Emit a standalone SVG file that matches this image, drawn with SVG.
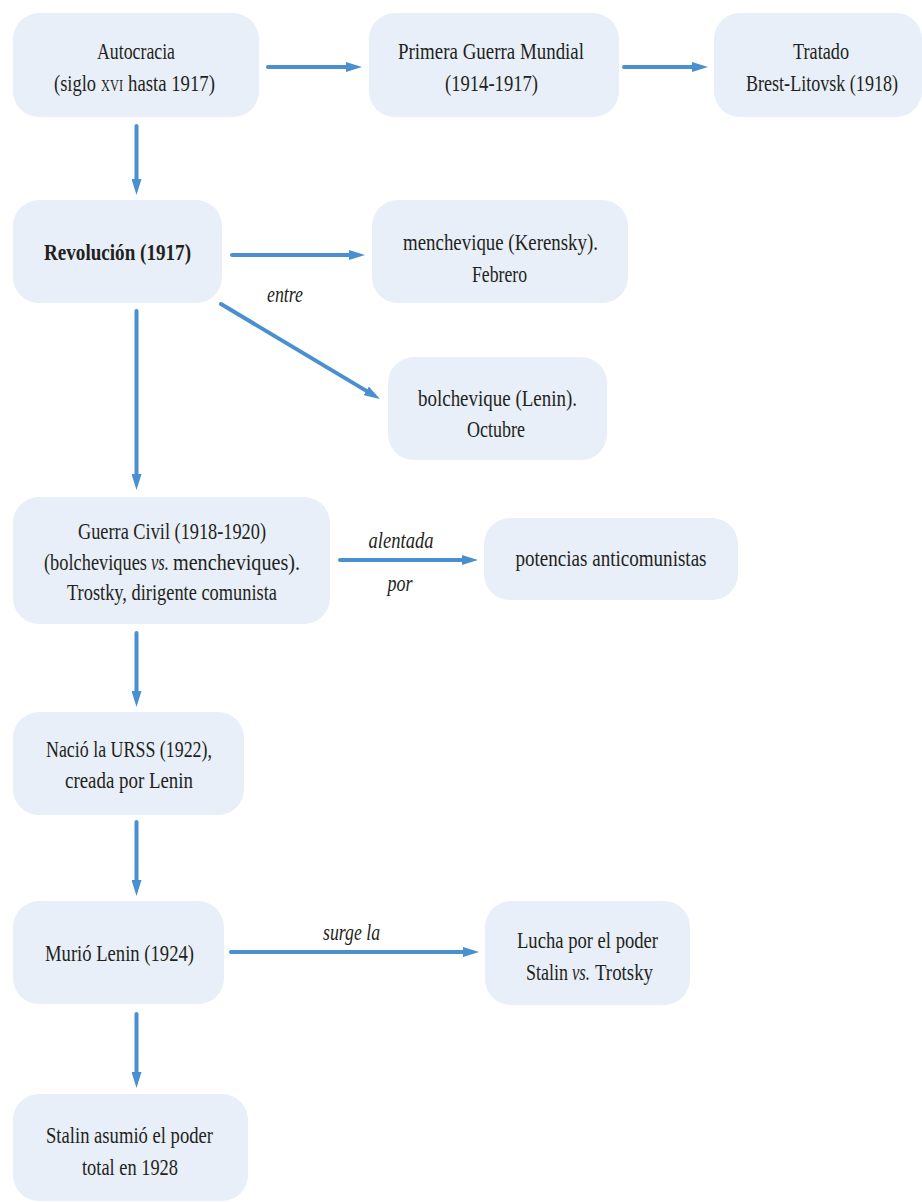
<svg xmlns="http://www.w3.org/2000/svg" width="922" height="1202" viewBox="0 0 922 1202">
<defs>
<style>
.box{fill:#e8eff8;}
.t{font-family:"Liberation Serif","Times New Roman",serif;font-size:24px;fill:#231f20;text-anchor:middle;}
.s{text-anchor:start;}
.b{font-weight:bold;}
.i{font-style:italic;}
.sc{font-size:17px;}
.c{fill:none;stroke:#4a8fd0;stroke-width:4;stroke-linecap:round;}
</style>
<marker id="ah" markerUnits="userSpaceOnUse" markerWidth="16" markerHeight="10" refX="6" refY="5" orient="auto">
<path d="M0,0 L16,5 L0,10 z" fill="#4a8fd0"/>
</marker>
</defs>
<rect width="922" height="1202" fill="#ffffff"/>
<g id="connectors">
<path class="c" d="M268,67 L352,67" marker-end="url(#ah)"/>
<path class="c" d="M624,67 L698,67" marker-end="url(#ah)"/>
<path class="c" d="M136.5,126 L136.5,185" marker-end="url(#ah)"/>
<path class="c" d="M232,255 L355,255" marker-end="url(#ah)"/>
<path class="c" d="M221,304 L371.4,393.9" marker-end="url(#ah)"/>
<path class="c" d="M136.5,311 L136.5,480" marker-end="url(#ah)"/>
<path class="c" d="M340,560 L468,560" marker-end="url(#ah)"/>
<path class="c" d="M136.5,633 L136.5,697" marker-end="url(#ah)"/>
<path class="c" d="M136.5,822 L136.5,886" marker-end="url(#ah)"/>
<path class="c" d="M231,952 L469,952" marker-end="url(#ah)"/>
<path class="c" d="M136.5,1014 L136.5,1078" marker-end="url(#ah)"/>
<text class="t i" x="285" y="302" textLength="36" lengthAdjust="spacingAndGlyphs">entre</text>
<text class="t i" x="401" y="548" textLength="65" lengthAdjust="spacingAndGlyphs">alentada</text>
<text class="t i" x="400" y="591" textLength="25" lengthAdjust="spacingAndGlyphs">por</text>
<text class="t i" x="351.5" y="940" textLength="57" lengthAdjust="spacingAndGlyphs">surge la</text>
</g>
<g id="n-autocracia">
<rect class="box" x="13" y="13" width="246" height="104" rx="26"/>
<text class="t" x="136" y="59" textLength="78" lengthAdjust="spacingAndGlyphs">Autocracia</text>
<text class="t s" x="54" y="91" textLength="42" lengthAdjust="spacingAndGlyphs">(siglo</text>
<text class="t s sc" x="101" y="91" textLength="22" lengthAdjust="spacingAndGlyphs">XVI</text>
<text class="t s" x="128" y="91" textLength="87" lengthAdjust="spacingAndGlyphs">hasta 1917)</text>
</g>
<g id="n-primera">
<rect class="box" x="369" y="13" width="250" height="104" rx="26"/>
<text class="t" x="491" y="59" textLength="186" lengthAdjust="spacingAndGlyphs">Primera Guerra Mundial</text>
<text class="t" x="491.5" y="91" textLength="93" lengthAdjust="spacingAndGlyphs">(1914-1917)</text>
</g>
<g id="n-tratado">
<rect class="box" x="714" y="13" width="208" height="104" rx="26"/>
<text class="t" x="821" y="59" textLength="56" lengthAdjust="spacingAndGlyphs">Tratado</text>
<text class="t" x="822" y="91" textLength="152" lengthAdjust="spacingAndGlyphs" style="font-size:23px">Brest-Litovsk (1918)</text>
</g>
<g id="n-revolucion">
<rect class="box" x="13" y="200" width="209" height="103" rx="26"/>
<text class="t b" x="117.5" y="260" textLength="147" lengthAdjust="spacingAndGlyphs">Revolución (1917)</text>
</g>
<g id="n-menchevique">
<rect class="box" x="372" y="200" width="256" height="103" rx="26"/>
<text class="t" x="500.5" y="250" textLength="195" lengthAdjust="spacingAndGlyphs">menchevique (Kerensky).</text>
<text class="t" x="499.5" y="282" textLength="55" lengthAdjust="spacingAndGlyphs">Febrero</text>
</g>
<g id="n-bolchevique">
<rect class="box" x="388" y="357" width="219" height="103" rx="26"/>
<text class="t" x="497.5" y="406" textLength="159" lengthAdjust="spacingAndGlyphs">bolchevique (Lenin).</text>
<text class="t" x="496" y="437" textLength="58" lengthAdjust="spacingAndGlyphs">Octubre</text>
</g>
<g id="n-guerracivil">
<rect class="box" x="13" y="497" width="317" height="127" rx="26"/>
<text class="t" x="172" y="539" textLength="188" lengthAdjust="spacingAndGlyphs">Guerra Civil (1918-1920)</text>
<text class="t s" x="44" y="570" textLength="103" lengthAdjust="spacingAndGlyphs">(bolcheviques</text>
<text class="t s i" x="151" y="570" textLength="18" lengthAdjust="spacingAndGlyphs">vs.</text>
<text class="t s" x="173" y="570" textLength="127" lengthAdjust="spacingAndGlyphs">mencheviques).</text>
<text class="t" x="172" y="600" textLength="210" lengthAdjust="spacingAndGlyphs">Trostky, dirigente comunista</text>
</g>
<g id="n-potencias">
<rect class="box" x="484" y="518" width="254" height="82" rx="26"/>
<text class="t" x="611" y="566" textLength="191" lengthAdjust="spacingAndGlyphs">potencias anticomunistas</text>
</g>
<g id="n-urss">
<rect class="box" x="13" y="712" width="231" height="103" rx="26"/>
<text class="t" x="129" y="757" textLength="166" lengthAdjust="spacingAndGlyphs">Nació la URSS (1922),</text>
<text class="t" x="129" y="788" textLength="128" lengthAdjust="spacingAndGlyphs">creada por Lenin</text>
</g>
<g id="n-murio">
<rect class="box" x="13" y="901" width="211" height="103" rx="26"/>
<text class="t" x="119.5" y="961" textLength="149" lengthAdjust="spacingAndGlyphs">Murió Lenin (1924)</text>
</g>
<g id="n-lucha">
<rect class="box" x="485" y="901" width="205" height="104" rx="26"/>
<text class="t" x="587.5" y="948" textLength="141" lengthAdjust="spacingAndGlyphs">Lucha por el poder</text>
<text class="t s" x="526" y="980" textLength="42" lengthAdjust="spacingAndGlyphs">Stalin</text>
<text class="t s i" x="572" y="980" textLength="18" lengthAdjust="spacingAndGlyphs">vs.</text>
<text class="t s" x="595" y="980" textLength="58" lengthAdjust="spacingAndGlyphs">Trotsky</text>
</g>
<g id="n-stalin">
<rect class="box" x="13" y="1094" width="235" height="107" rx="26"/>
<text class="t" x="129.5" y="1143" textLength="167" lengthAdjust="spacingAndGlyphs">Stalin asumió el poder</text>
<text class="t" x="130" y="1175" textLength="96" lengthAdjust="spacingAndGlyphs">total en 1928</text>
</g>
</svg>
